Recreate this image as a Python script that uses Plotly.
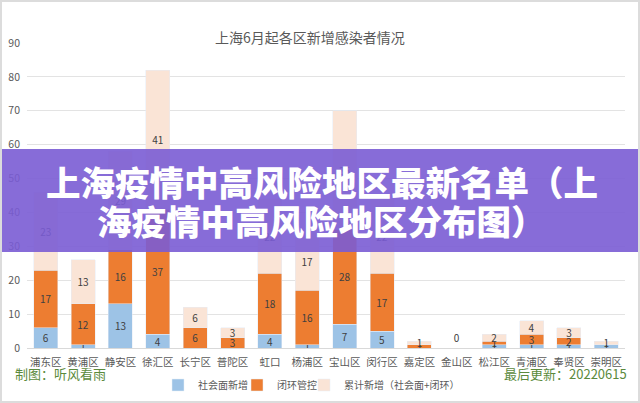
import plotly.graph_objects as go

districts = ["浦东区", "黄浦区", "静安区", "徐汇区", "长宁区", "普陀区", "虹口", "杨浦区",
             "宝山区", "闵行区", "嘉定区", "金山区", "松江区", "青浦区", "奉贤区", "崇明区"]
social = [6, 1, 13, 4, 0, 0, 4, 1, 7, 5, 0, 0, 1, 1, 1, 1]
closed = [17, 12, 16, 37, 6, 3, 18, 16, 28, 17, 1, 0, 1, 3, 2, 0]
total = [23, 13, 29, 41, 6, 3, 22, 17, 35, 22, 1, 0, 2, 4, 3, 1]
y_ticks = [0, 10, 20, 30, 40, 50, 60, 70, 80, 90]

title_text = "上海6月起各区新增感染者情况"
banner_line1 = "上海疫情中高风险地区最新名单（上"
banner_line2 = "海疫情中高风险地区分布图）"
footer_left = "制图：听风看雨"
footer_right = "最后更新：20220615"

FONT = "Noto Sans CJK SC"
LBL = dict(family=FONT, size=10, color="#404040")


def labels(vals, show_zero_idx=None):
    out = []
    for i, v in enumerate(vals):
        if v == 0 and i != show_zero_idx:
            out.append("")
        else:
            out.append(str(v))
    return out


fig = go.Figure()
fig.add_trace(go.Bar(x=districts, y=social, name="社会面新增", marker_color="#9dc3e6",
                     text=labels(social), textposition="inside", insidetextanchor="middle",
                     constraintext="none", textfont=LBL, textangle=0, legend="legend"))
fig.add_trace(go.Bar(x=districts, y=closed, name="闭环管控", marker_color="#ed7d31",
                     text=labels(closed), textposition="inside", insidetextanchor="middle",
                     constraintext="none", textfont=LBL, textangle=0, legend="legend2"))
tpos = ["outside" if v == 0 else "inside" for v in total]
fig.add_trace(go.Bar(x=districts, y=total, name="累计新增（社会面+闭环）", marker_color="#fae4d6",
                     text=labels(total, show_zero_idx=11), textposition=tpos,
                     insidetextanchor="middle", constraintext="none", textfont=LBL,
                     textangle=0, cliponaxis=False, legend="legend3"))

L, R, T, B = 27, 15, 43, 55
W, H = 640, 403
pw, ph = W - L - R, H - T - B


def px(x):
    return (x - L) / pw


def py(y):
    return (H - B - y) / ph


def leg(xpix):
    return dict(orientation="h", x=px(xpix), xanchor="left", y=py(385), yanchor="middle",
                font=dict(size=10, color="#595959"), itemwidth=30,
                bgcolor="rgba(0,0,0,0)")


fig.update_layout(
    width=W, height=H, margin=dict(l=L, r=R, t=T, b=B, autoexpand=False),
    paper_bgcolor="white", plot_bgcolor="white",
    barmode="stack", bargap=0.36,
    font=dict(family=FONT, color="#595959"),
    showlegend=True,
    legend=leg(158), legend2=leg(237), legend3=leg(304),
    xaxis=dict(tickfont=dict(size=10.5, color="#595959"), showgrid=False,
               showline=True, linecolor="#d9d9d9", ticks="", ticklabelstandoff=4),
    yaxis=dict(range=[0, 90], tickvals=y_ticks, showgrid=True, gridcolor="#e3e3e3",
               zeroline=False, tickfont=dict(size=10.5, color="#595959"), ticks="",
               ticklabelstandoff=6),
)

# title
fig.add_annotation(text=title_text, xref="paper", yref="paper", x=px(310), y=py(25),
                   showarrow=False, font=dict(size=14, color="#595959", family=FONT))

# banner overlay
fig.add_shape(type="rect", xref="paper", yref="paper", x0=px(0), x1=px(640),
              y0=py(252), y1=py(149), fillcolor="rgba(122,92,212,0.9)",
              line=dict(width=0), layer="above")
fig.add_annotation(text=banner_line1, xref="paper", yref="paper", x=px(322), y=py(181),
                   showarrow=False,
                   font=dict(size=34.5, color="white", family=FONT, weight=900))
fig.add_annotation(text=banner_line2, xref="paper", yref="paper", x=px(321), y=py(220),
                   showarrow=False,
                   font=dict(size=34.5, color="white", family=FONT, weight=900))

# footer texts
fig.add_annotation(text=footer_left, xref="paper", yref="paper", x=px(13), y=py(385),
                   xanchor="left", showarrow=False,
                   font=dict(size=13, color="#5b8a3c", family=FONT))
fig.add_annotation(text=footer_right, xref="paper", yref="paper", x=px(629), y=py(385),
                   xanchor="right", showarrow=False,
                   font=dict(size=13, color="#5b8a3c", family=FONT))

# outer frame
fig.add_shape(type="rect", xref="paper", yref="paper", x0=px(1), x1=px(639),
              y0=py(402), y1=py(1), line=dict(color="#dcdcdc", width=2),
              fillcolor="rgba(0,0,0,0)", layer="above")

fig.write_html("out.html")
